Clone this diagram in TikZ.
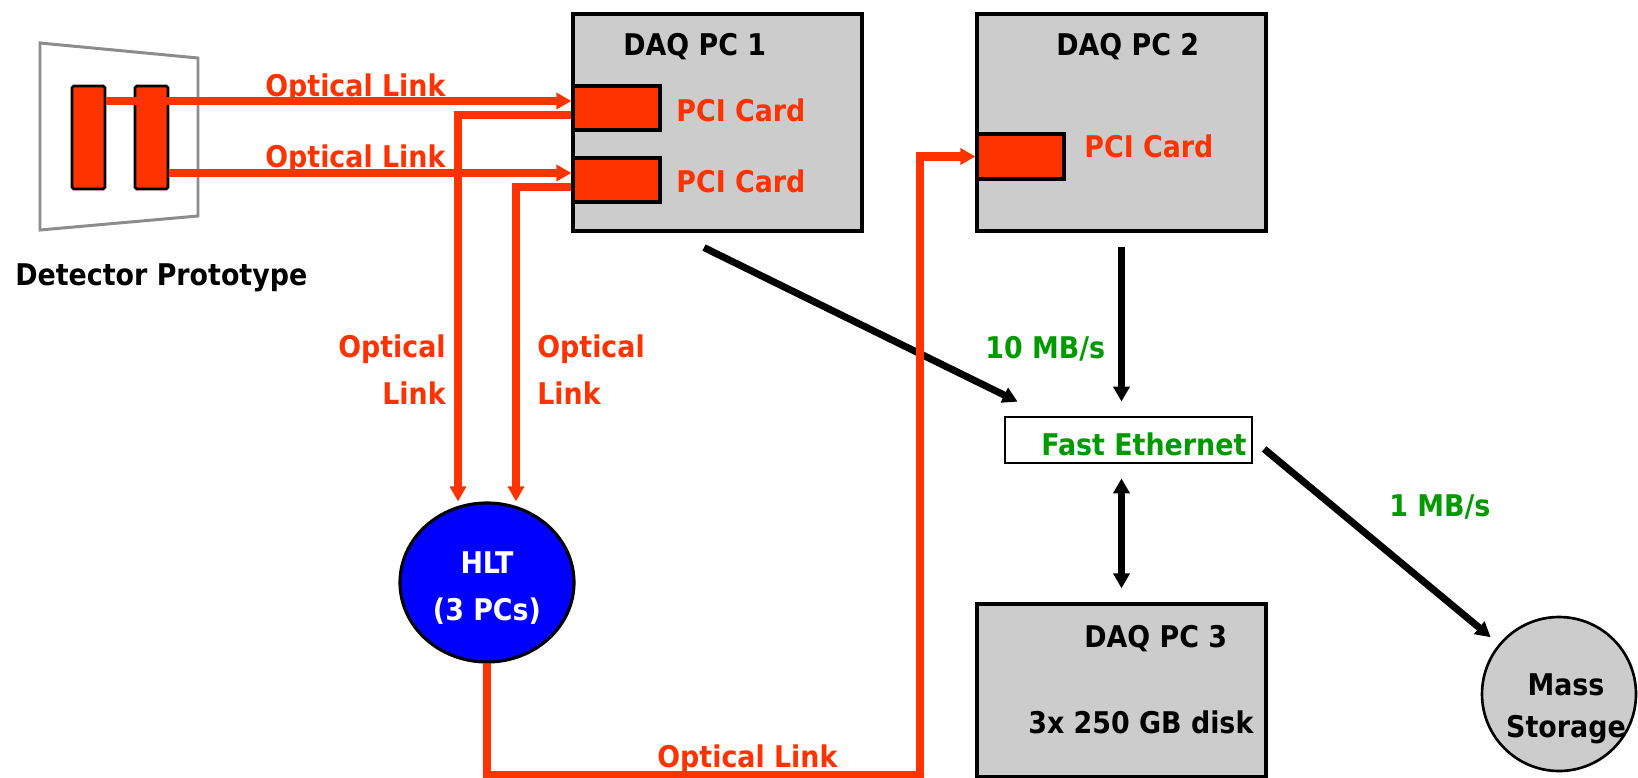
\documentclass[tikz,border=0pt]{standalone}
\usepackage{fontspec}
\setmainfont{DejaVu Sans Condensed}
\usepackage{xcolor}
\usetikzlibrary{shapes,arrows.meta,positioning,calc}

\definecolor{linkred}{HTML}{FF3300}
\definecolor{rategreen}{HTML}{009900}
\definecolor{pcgray}{HTML}{CCCCCC}
\definecolor{hltblue}{HTML}{0000FF}

\tikzset{
  >={Triangle[length=8.5pt,width=9pt]},
  lbl/.style={font=\fontsize{17}{26.7}\selectfont\bfseries, inner sep=0pt},
  pcbox/.style={draw, line width=1.8pt, fill=pcgray, minimum width=5.78cm, minimum height=4.34cm},
  card/.style={draw, line width=1.8pt, fill=linkred, minimum width=1.74cm, minimum height=0.88cm},
  bar/.style={draw, line width=1.5pt, fill=linkred, rounded corners=1pt, minimum width=0.66cm, minimum height=2.06cm},
  olink/.style={draw=linkred, line width=4.6pt},
  dataflow/.style={draw=black, line width=4pt}
}

\begin{document}
\begin{tikzpicture}[x=2cm, y=-2cm]
    \useasboundingbox (0,0) rectangle (16.38,7.78);

    % Detector prototype
    \draw[gray!90, line width=1.7pt] (0.40,0.43) -- (1.98,0.58) -- (1.98,2.16) -- (0.40,2.30) -- cycle;
    \node[bar] (bar1) at (0.885,1.375) {};
    \node[bar] (bar2) at (1.515,1.375) {};
    \node[lbl, anchor=base west] (detname) at (0.15,2.85) {Detector Prototype};

    % DAQ PC 1 with two PCI cards
    \node[pcbox] (pc1) at (7.175,1.225) {};
    \node[card] (card1a) at (6.165,1.08) {};
    \node[card] (card1b) at (6.165,1.80) {};
    \node[lbl, anchor=base west] (pc1name) at (6.23,0.56) {DAQ PC 1};
    \node[lbl, text=linkred, anchor=base west] (cardA) at (6.76,1.22) {PCI Card};
    \node[lbl, text=linkred, anchor=base west] (cardB) at (6.76,1.93) {PCI Card};

    % DAQ PC 2
    \node[pcbox] (pc2) at (11.215,1.225) {};
    \node[card, minimum height=0.9cm] (card2) at (10.205,1.565) {};
    \node[lbl, anchor=base west] (pc2name) at (10.56,0.56) {DAQ PC 2};
    \node[lbl, text=linkred, anchor=base west] (cardC) at (10.84,1.57) {PCI Card};

    % HLT farm
    \node[ellipse, draw, line width=1.8pt, fill=hltblue, minimum width=3.48cm, minimum height=3.18cm] (hlt) at (4.87,5.825) {};
    \node[lbl, text=white, align=center, anchor=base] (hltname) at (4.87,6.20) {HLT\\(3 PCs)};

    % Fast Ethernet, DAQ PC 3, mass storage
    \node[draw, line width=1.5pt, fill=white, minimum width=4.94cm, minimum height=0.92cm] (eth) at (11.285,4.40) {};
    \node[lbl, text=rategreen, anchor=base west] (ethname) at (10.41,4.55) {Fast Ethernet};
    \node[pcbox, minimum height=3.46cm] (pc3) at (11.215,6.905) {};
    \node[lbl, anchor=base west] (pc3name) at (10.84,6.47) {DAQ PC 3};
    \node[lbl, anchor=base west] (pc3disk) at (10.28,7.33) {3x 250 GB disk};
    \node[circle, draw, line width=1.5pt, fill=pcgray, minimum size=3.08cm] (mass) at (15.59,6.94) {};
    \node[lbl, align=center, anchor=base, font=\fontsize{17}{23.9}\selectfont\bfseries] (massname) at (15.66,7.37) {Mass\\Storage};

    % link labels (under the fibres)
    \node[lbl, text=linkred, anchor=base west] (lkA) at (2.65,0.97) {Optical Link};
    \node[lbl, text=linkred, anchor=base west] (lkB) at (2.65,1.68) {Optical Link};
    \node[lbl, text=linkred, align=right, anchor=base east] (lkC) at (4.46,4.04) {Optical\\Link};
    \node[lbl, text=linkred, align=left, anchor=base west] (lkD) at (5.37,4.04) {Optical\\Link};
    \node[lbl, text=linkred, anchor=base west] (lkE) at (6.57,7.67) {Optical Link};
    \node[lbl, text=rategreen, anchor=base west] (rateA) at (9.85,3.58) {10 MB/s};
    \node[lbl, text=rategreen, anchor=base west] (rateB) at (13.89,5.16) {1 MB/s};

    % Ethernet traffic
    \draw[dataflow, ->] ($(pc1.south)+(-0.135,0.15)$) -- ($(eth.north west)+(0.14,-0.14)$);
    \draw[dataflow, ->, shorten <=8pt, shorten >=8pt] (pc2.south) -- (pc2.south |- eth.north);
    \draw[dataflow, <->, shorten <=8pt, shorten >=8pt] (eth.south -| pc3.north) -- (pc3.north);
    \draw[dataflow, ->, shorten <=8pt, shorten >=6pt] (eth.east) -- (mass);

    % Optical links
    \coordinate (in1) at ($(card1a.west)+(0,-0.07)$);
    \coordinate (out1) at ($(card1a.west)+(0,0.07)$);
    \coordinate (in2) at ($(card1b.west)+(0,-0.07)$);
    \coordinate (out2) at ($(card1b.west)+(0,0.07)$);
    \coordinate (turn) at (9.20,7.75);

    \draw[olink, ->] (bar1.east |- in1) -- (in1);
    \draw[olink, ->] (bar2.east |- in2) -- (in2);
    \draw[olink, ->] (out1) -| ($(hlt.north)+(-0.29,0)$);
    \draw[olink, ->] (out2) -| ($(hlt.north)+(0.29,0)$);
    \draw[olink, ->] (hlt.south) |- (turn) |- (card2.west);
\end{tikzpicture}
\end{document}
